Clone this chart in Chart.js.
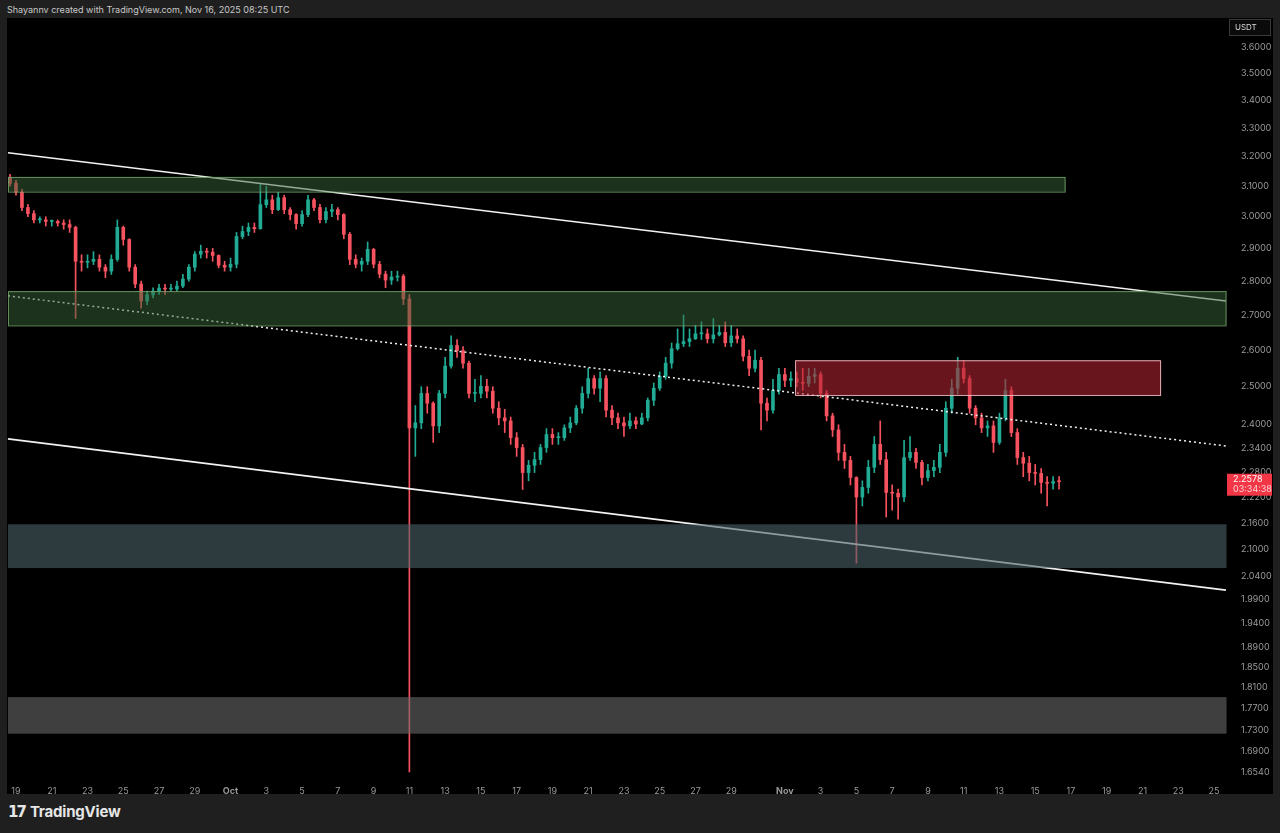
<!DOCTYPE html>
<html><head><meta charset="utf-8">
<script src="https://cdn.jsdelivr.net/npm/chart.js@4.4.1/dist/chart.umd.min.js"></script>
<style>
html,body{margin:0;padding:0;background:#1f1f1f;width:1280px;height:833px;overflow:hidden;font-family:"Inter","Liberation Sans",sans-serif}
#hdr{position:absolute;left:7px;top:4px;font-size:9px;color:#c8c8c8}
#wrap{position:absolute;left:7px;top:18px;width:1266px;height:776px;background:#000}
#ftr{position:absolute;left:8px;top:802px;font-size:15px;font-weight:700;color:#e6e6e6;letter-spacing:-0.2px}
#ftr b{font-family:"DejaVu Sans";font-weight:900;font-size:15px;margin-right:5px;letter-spacing:-2px}
</style></head><body>
<div id="hdr">Shayannv created with TradingView.com, Nov 16, 2025 08:25 UTC</div>
<div id="wrap"><canvas id="c" width="1266" height="776"></canvas></div>
<div id="ftr"><b>17</b>TradingView</div>
<script>
// 8-hour candles starting Sep 18 16:00 (day index 0 = Sep 19)
const startDay = -1/3, step = 1/3;
const firstOpen = 3.13;
const closes = [3.11,3.08,3.03,3.01,2.99,2.99,2.985,2.985,2.98,2.975,
2.966,2.86,2.857,2.86,2.866,2.842,2.83,2.866,2.966,2.928,
2.842,2.791,2.741,2.759,2.77,2.779,2.776,2.776,2.785,2.806,
2.842,2.882,2.891,2.888,2.878,2.848,2.842,2.851,2.937,2.953,
2.966,2.962,3.039,3.055,3.023,3.062,3.023,3.007,2.978,3.007,
3.055,3.03,2.991,3.017,3.023,3.007,2.944,2.866,2.851,2.86,
2.897,2.851,2.821,2.803,2.812,2.815,2.747,2.392,2.405,2.482,
2.456,2.397,2.482,2.556,2.613,2.599,2.564,2.482,2.482,2.501,
2.488,2.443,2.418,2.41,2.367,2.342,2.28,2.298,2.312,2.342,
2.375,2.367,2.367,2.392,2.405,2.443,2.482,2.522,2.496,2.522,
2.438,2.418,2.405,2.397,2.41,2.402,2.418,2.464,2.496,2.528,
2.564,2.604,2.618,2.624,2.632,2.646,2.646,2.632,2.643,2.65,
2.621,2.64,2.632,2.583,2.55,2.572,2.456,2.438,2.49,2.533,
2.517,2.522,2.512,2.509,2.528,2.533,2.482,2.423,2.387,2.33,
2.31,2.268,2.221,2.244,2.293,2.35,2.312,2.232,2.23,2.221,
2.317,2.33,2.305,2.268,2.285,2.293,2.33,2.443,2.496,2.55,
2.522,2.443,2.418,2.392,2.397,2.355,2.418,2.49,2.38,2.317,
2.303,2.28,2.278,2.256,2.254,2.258,2.2578];
const highs = [3.14,3.12,3.09,3.04,3.02,3.00,3.00,2.99,2.99,2.99,
2.99,2.97,2.88,2.88,2.89,2.88,2.85,2.88,2.99,2.97,
2.93,2.85,2.80,2.77,2.78,2.79,2.79,2.79,2.80,2.82,
2.85,2.89,2.91,2.90,2.90,2.88,2.86,2.87,2.95,2.97,
2.98,2.98,3.11,3.10,3.07,3.08,3.07,3.03,3.01,3.02,
3.07,3.06,3.04,3.03,3.04,3.03,3.01,2.95,2.88,2.87,
2.92,2.90,2.86,2.83,2.83,2.83,2.82,2.76,2.45,2.50,
2.50,2.46,2.49,2.58,2.64,2.63,2.61,2.57,2.52,2.53,
2.52,2.50,2.46,2.44,2.42,2.38,2.35,2.31,2.33,2.35,
2.39,2.39,2.38,2.40,2.42,2.45,2.50,2.55,2.53,2.54,
2.53,2.45,2.43,2.42,2.43,2.42,2.43,2.47,2.51,2.54,
2.58,2.62,2.66,2.70,2.66,2.67,2.68,2.66,2.69,2.67,
2.68,2.67,2.66,2.64,2.60,2.60,2.58,2.47,2.52,2.55,
2.55,2.54,2.54,2.55,2.55,2.55,2.54,2.49,2.43,2.40,
2.35,2.32,2.27,2.26,2.31,2.37,2.41,2.33,2.25,2.24,
2.36,2.37,2.34,2.31,2.30,2.31,2.35,2.46,2.52,2.58,
2.57,2.53,2.45,2.43,2.41,2.41,2.43,2.52,2.50,2.39,
2.33,2.32,2.30,2.29,2.27,2.27,2.27];
const lows = [3.10,3.07,3.02,3.00,2.98,2.98,2.97,2.97,2.97,2.96,
2.95,2.69,2.83,2.84,2.85,2.83,2.81,2.82,2.86,2.91,
2.83,2.78,2.72,2.73,2.75,2.76,2.76,2.77,2.77,2.78,
2.80,2.83,2.87,2.87,2.86,2.84,2.83,2.83,2.84,2.93,
2.94,2.95,2.96,3.03,3.01,3.02,3.01,2.99,2.96,2.97,
3.00,3.02,2.98,2.98,3.00,2.99,2.93,2.85,2.84,2.83,
2.85,2.84,2.81,2.78,2.79,2.80,2.73,1.654,2.32,2.39,
2.43,2.355,2.38,2.47,2.55,2.58,2.55,2.47,2.46,2.47,
2.47,2.43,2.40,2.38,2.35,2.32,2.239,2.26,2.28,2.30,
2.33,2.35,2.35,2.36,2.38,2.40,2.43,2.47,2.48,2.46,
2.42,2.40,2.39,2.37,2.39,2.39,2.40,2.41,2.45,2.49,
2.52,2.55,2.60,2.61,2.61,2.63,2.63,2.62,2.62,2.64,
2.61,2.61,2.62,2.57,2.53,2.54,2.387,2.41,2.43,2.48,
2.50,2.50,2.50,2.49,2.50,2.51,2.47,2.41,2.37,2.31,
2.29,2.25,2.069,2.20,2.23,2.28,2.30,2.174,2.19,2.169,
2.21,2.31,2.29,2.25,2.26,2.27,2.28,2.32,2.43,2.48,
2.51,2.43,2.40,2.38,2.37,2.33,2.35,2.41,2.37,2.30,
2.27,2.26,2.25,2.23,2.20,2.24,2.24];

const yTicks = [3.6,3.5,3.4,3.3,3.2,3.1,3.0,2.9,2.8,2.7,2.6,2.5,2.4,2.34,2.28,2.22,2.16,2.10,2.04,1.99,1.94,1.89,1.85,1.81,1.77,1.73,1.69,1.654];
const xTickDays = [0,2,4,6,8,10,12,14,16,18,20,22,24,26,28,30,32,34,36,38,40,43,45,47,49,51,53,55,57,59,61,63,65,67];
const xTickLabels = ['19','21','23','25','27','29','Oct','3','5','7','9','11','13','15','17','19','21','23','25','27','29','Nov','3','5','7','9','11','13','15','17','19','21','23','25'];

// zones: [dayStart, dayEnd, priceTop, priceBottom]
const zoneUpperGreen = [-0.45, 58.7, 3.131, 3.082];
const zoneMidGreen = [-0.45, 67.7, 2.770, 2.670];
const zoneRed = [43.57, 64.04, 2.572, 2.478];
const zoneTeal = [-0.45, 67.7, 2.157, 2.058];
const zoneGrey = [-0.45, 67.7, 1.792, 1.723];
// trend lines: [day1, price1, day2, price2]
const lineUpper = [-0.45, 3.213, 67.67, 2.741];
const lineLower = [-0.45, 2.364, 67.67, 2.010];
const lineMid = [-0.45, 2.756, 67.67, 2.346];
const lastPrice = 2.2578, countdown = '03:34:38';

const UP = '#22ab94', DN = '#f7525f';
const opens = closes.map((c,i)=> i===0 ? firstOpen : closes[i-1]);
const days = closes.map((c,i)=> startDay + i*step);
const cols = closes.map((c,i)=> c >= opens[i] ? UP : DN);

const zonePlugin = {
  id:'zones',
  afterDatasetsDraw(chart){
    const {ctx, scales:{x,y}} = chart;
    const boxes = [
      [zoneUpperGreen,'rgba(55,100,55,0.5)','rgba(120,170,110,0.8)'],
      [zoneMidGreen,'rgba(55,100,55,0.5)','rgba(120,170,110,0.8)'],
      [zoneRed,'rgba(175,35,48,0.6)','rgba(240,190,195,0.9)'],
      [zoneTeal,'rgba(75,98,103,0.6)',null],
      [zoneGrey,'rgba(105,105,105,0.6)',null]];
    ctx.save();
    for(const [z,f,s] of boxes){
      const x1=x.getPixelForValue(z[0]), x2=x.getPixelForValue(z[1]);
      const y1=y.getPixelForValue(z[2]), y2=y.getPixelForValue(z[3]);
      ctx.fillStyle=f; ctx.fillRect(x1,y1,x2-x1,y2-y1);
      if(s){ctx.strokeStyle=s;ctx.lineWidth=1;ctx.strokeRect(x1+0.5,y1+0.5,x2-x1-1,y2-y1);}
    }
    ctx.restore();
  },
  afterDraw(chart){
    const {ctx, scales:{y}} = chart;
    ctx.save();
    const py = y.getPixelForValue(lastPrice);
    ctx.fillStyle='#f23645'; ctx.fillRect(1220,py-8,45,22);
    ctx.fillStyle='#fff'; ctx.font='9px Inter, sans-serif'; ctx.textBaseline='middle';
    ctx.fillText(lastPrice.toFixed(4),1226,py-2);
    ctx.fillStyle='#ffd0d4'; ctx.fillText(countdown,1226,py+8);
    ctx.strokeStyle='#3a3a3a'; ctx.fillStyle='#0b0b0b';
    ctx.fillRect(1222,1,42,17); ctx.strokeRect(1222.5,1.5,41,16);
    ctx.fillStyle='#d8d8d8'; ctx.font='8px Inter, sans-serif'; ctx.fillText('USDT',1228,10);
    ctx.restore();
  }
};

const lineDs = (l, dash) => ({type:'line', data:[{x:l[0],y:l[1]},{x:l[2],y:l[3]}], borderColor:'#f2f2f2', borderWidth: dash?1.5:1.6, borderDash: dash?[2,3]:[], pointRadius:0, order:0});

new Chart(document.getElementById('c'), {
  type:'bar',
  data:{datasets:[
    {data: days.map((d,i)=>({x:d,y:[lows[i],highs[i]]})), backgroundColor:cols, barThickness:1, grouped:false, order:2},
    {data: days.map((d,i)=>({x:d,y:[opens[i],closes[i]]})), backgroundColor:cols, barThickness:3, grouped:false, minBarLength:1, order:1},
    lineDs(lineUpper,false), lineDs(lineLower,false), lineDs(lineMid,true)
  ]},
  options:{
    responsive:false, animation:false, devicePixelRatio:1,
    layout:{padding:0},
    plugins:{legend:{display:false}, tooltip:{enabled:false}},
    scales:{
      x:{type:'linear', offset:false, bounds:'data', min:-0.503, max:67.67, grid:{display:false}, border:{display:false},
        afterBuildTicks(s){ s.ticks = xTickDays.map(v=>({value:v})); },
        afterFit(s){ s.height = 17; s.paddingLeft=0; s.paddingRight=0; s.paddingTop=0; s.paddingBottom=0; },
        ticks:{color:'#9a9a9a', maxRotation:0, autoSkip:false, padding:1,
          font:(c)=>({size:9, family:'Inter', weight: (c.tick && (c.tick.label==='Oct'||c.tick.label==='Nov'))?'bold':'normal'}),
          callback:(v)=>{const k=xTickDays.indexOf(v); return k<0?'':xTickLabels[k];}}},
      y:{type:'logarithmic', position:'right', bounds:'data', beginAtZero:false, min:1.6448, max:3.713, grid:{display:false}, border:{display:false},
        afterDataLimits(s){ s.min = 1.6448; s.max = 3.713; },
        afterBuildTicks(s){ s.ticks = yTicks.map(v=>({value:v})); s.min = 1.6448; s.max = 3.713; },
        afterFit(s){ s.width = 47; s.paddingTop=0; s.paddingBottom=0; s.paddingLeft=0; s.paddingRight=0; },
        ticks:{color:'#9a9a9a', padding:7, font:{size:9,family:'Inter'}, autoSkip:false, callback:(v)=>Number(v).toFixed(4)}}
    }
  },
  plugins:[zonePlugin]
});
</script></body></html>
